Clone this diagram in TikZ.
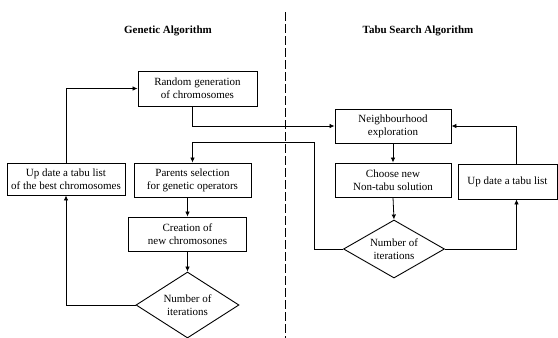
\documentclass[tikz,border=0pt]{standalone}
\usepackage{fontspec}
\setmainfont{Liberation Serif}
\usetikzlibrary{arrows.meta,shapes.geometric}

\begin{document}
\begin{tikzpicture}[
  x=1pt, y=-1pt,
  every node/.append style={font=\fontsize{11}{13}\selectfont, align=center},
  box/.style={draw, line width=0.9pt, inner sep=0pt},
  decision/.style={draw, diamond, line width=0.9pt, inner sep=0pt, aspect=1.6},
  link/.style={line width=0.8pt},
  arr/.style={link, -{Latex[length=5pt,width=4.5pt]}},
  title/.style={font=\fontsize{11}{13}\selectfont\bfseries},
]
\useasboundingbox (0,0) rectangle (558,338);

% ---------- titles and divider ----------
\node[title] (gatitle) at (168, 31) {Genetic Algorithm};
\node[title] (tstitle) at (418, 31) {Tabu Search Algorithm};
\draw[line width=0.8pt, dash pattern=on 9pt off 3pt] (285, 12) -- (285, 338);

% ---------- left: genetic algorithm ----------
\node[box, minimum width=119pt, minimum height=35pt] (rand) at (197.5, 88.5)
  {Random generation\\of chromosomes};
\node[box, minimum width=118pt, minimum height=32pt] (upbest) at (66, 179)
  {Up date a tabu list\\of the best chromosomes};
\node[box, minimum width=117pt, minimum height=34pt] (parents) at (192.5, 180)
  {Parents selection\\for genetic operators};
\node[box, minimum width=118pt, minimum height=34pt] (creation) at (187.5, 234)
  {Creation of\\new chromosones};
\node[decision, minimum width=103pt, minimum height=66pt] (ldiam) at (187.5, 305)
  {Number of\\iterations};

% ---------- right: tabu search ----------
\node[box, minimum width=116pt, minimum height=34pt] (neigh) at (393, 126)
  {Neighbourhood\\exploration};
\node[box, minimum width=116pt, minimum height=34pt] (choose) at (393, 180)
  {Choose new\\Non-tabu solution};
\node[box, minimum width=99pt, minimum height=35pt] (upright) at (507.5, 181.5)
  {Up date a tabu list};
\node[decision, minimum width=101pt, minimum height=58pt] (rdiam) at (394, 249)
  {Number of\\iterations};
\coordinate (ret) at (314, 142);

% ---------- connectors ----------
\draw[arr] ([xshift=-5pt]rand.south) |- (neigh.west);
\draw[arr] (upbest.north) |- (rand.west);
\draw[arr] (ldiam.west) -| (upbest.south);
\draw[arr] (creation.north |- parents.south) -- (creation.north);
\draw[arr] (creation.south) -- (ldiam.north);
\draw[arr] (rdiam.west) -| (ret) -| (parents.north);
\draw[arr] (neigh.south) -- (choose.north);
\draw[arr] (choose.south) -- (rdiam.north);
\draw[arr] (rdiam.east) -| ([xshift=9pt]upright.south);
\draw[arr] ([xshift=9pt]upright.north) |- (neigh.east);

\end{tikzpicture}
\end{document}
